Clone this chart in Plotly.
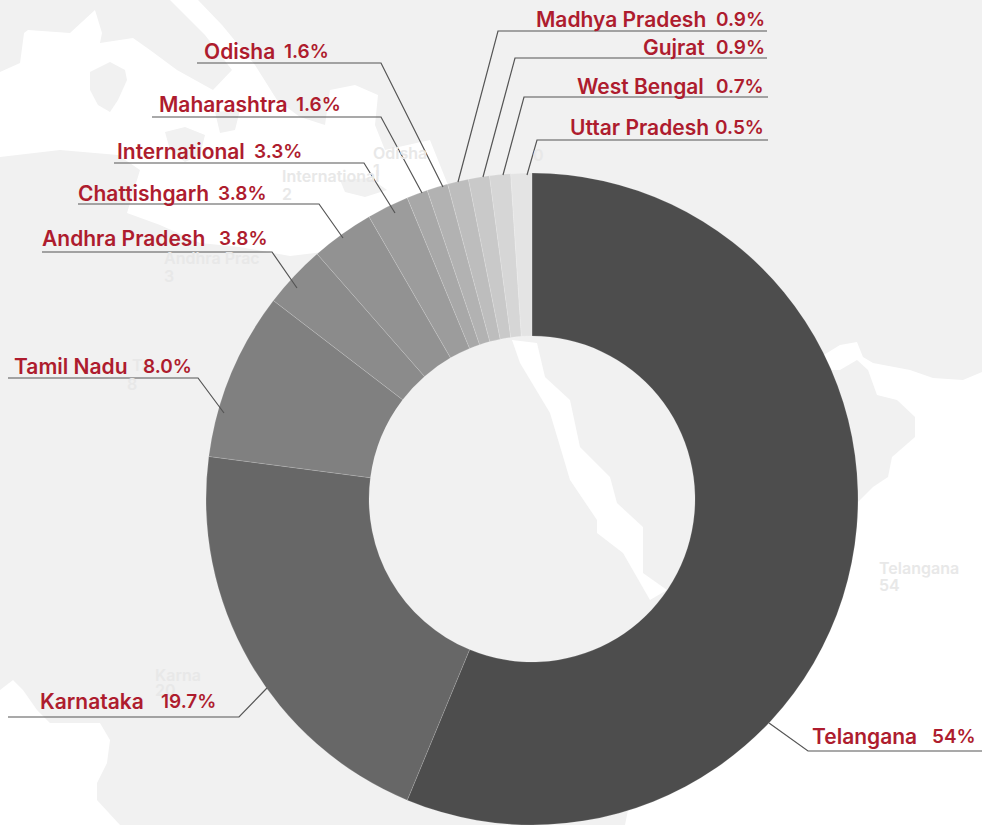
import plotly.graph_objects as go

# ---------- data ----------
regions = ["Telangana", "Karnataka", "Tamil Nadu", "Andhra Pradesh", "Chattishgarh", "International",
           "Maharashtra", "Odisha", "Madhya Pradesh", "Gujrat", "West Bengal", "Uttar Pradesh"]
values = [54, 20, 8, 3, 3, 2, 1, 1, 1, 1, 1, 1]
share_labels = ["54%", "19.7%", "8.0%", "3.8%", "3.8%", "3.3%", "1.6%", "1.6%", "0.9%", "0.9%", "0.7%", "0.5%"]

# ---------- styles / layout ----------
W, H = 982, 825
slice_colors = ["#4d4d4d", "#676767", "#808080", "#8b8b8b", "#929292", "#9c9c9c",
                "#a8a8a8", "#b2b2b2", "#bdbdbd", "#c9c9c9", "#d6d6d6", "#e4e4e4"]
RED = "#ae1c2e"
GHOST = "#e8e8e8"
LEADER = "#555555"

# label placement: name right edge, share right edge, text centre y
label_pos = [(918, 977, 736), (145, 217, 701), (129, 193, 366), (206, 268, 239), (210, 267, 194), (246, 303, 152),
             (289, 342, 105), (276, 330, 52), (707, 766, 19), (706, 766, 47), (705, 765, 86), (710, 765, 127)]
# leader lines: slice tip, elbow, end of the horizontal rule
leaders = [
    [(769, 723), (808, 751), (982, 751)],
    [(267, 688), (239, 717), (8, 717)],
    [(224, 413), (198, 378), (8, 378)],
    [(297, 288), (272, 252), (42, 252)],
    [(343, 238), (319, 204), (78, 204)],
    [(395, 213), (364, 163), (114, 163)],
    [(422, 193), (381, 117), (152, 117)],
    [(443, 187), (381, 63), (197, 63)],
    [(458, 182), (498, 31), (767, 31)],
    [(483, 177), (515, 58), (767, 58)],
    [(503, 175), (524, 97), (768, 97)],
    [(527, 175), (537, 140), (768, 140)],
]
ghosts = [("Telangana", 878, 568), ("54", 878, 585), ("Karna", 154, 675), ("20", 154, 690),
          ("Ta", 131, 365), ("8", 126, 384), ("Andhra Prac", 163, 258), ("3", 163, 276),
          ("International", 281, 176), ("2", 281, 194), ("Odisha", 372, 153), ("1", 372, 170),
          ("0", 532, 155)]

# faint map behind the chart (white water on grey land)
water = [
    [(0,72),(20,63),(24,33),(28,30),(70,33),(95,10),(102,33),(100,43),(133,38),(150,50),(177,70),(213,90),
     (232,70),(205,35),(170,0),(198,0),(222,25),(255,65),(277,100),(300,117),(325,125),(330,90),(355,85),(378,95),
     (375,125),(385,150),(430,140),(450,190),(400,240),(340,250),(290,256),(240,247),(200,243),(160,225),(127,213),
     (140,170),(118,155),(60,150),(0,157)],
    [(512,340),(520,363),(550,413),(562,453),(570,480),(597,520),(597,533),(623,553),(650,600),(667,590),(643,573),
     (643,527),(617,503),(610,477),(580,447),(570,400),(545,377),(537,343)],
    [(750,400),(840,345),(857,342),(863,357),(873,363),(910,370),(933,378),(963,380),(982,372),(982,825),(625,825),(650,700),(700,500)],
    [(0,690),(13,680),(23,690),(37,710),(50,723),(100,723),(110,740),(107,763),(97,783),(97,800),(120,825),(0,825)],
]
land = [
    [(90,72),(110,62),(125,70),(127,80),(118,100),(110,112),(98,105),(90,90)],
    [(165,132),(185,127),(205,135),(200,155),(185,162),(170,150)],
    [(215,112),(240,110),(235,130),(220,133)],
    [(340,180),(370,178),(387,190),(365,197),(345,192)],
    [(820,370),(840,370),(857,360),(868,370),(877,395),(897,400),(915,417),(915,437),(892,457),(888,477),(873,487),(857,503),(800,520)],
]

def px(x, y):
    return f"{x / W:.5f},{1 - y / H:.5f}"

def path(points, close=True):
    return "M " + " L ".join(px(x, y) for x, y in points) + (" Z" if close else "")

shapes = []
for poly in water:
    shapes.append(dict(type="path", xref="paper", yref="paper", layer="below", path=path(poly), fillcolor="#ffffff", line=dict(width=0)))
for poly in land:
    shapes.append(dict(type="path", xref="paper", yref="paper", layer="below", path=path(poly), fillcolor="#f1f1f1", line=dict(width=0)))
for pts in leaders:
    shapes.append(dict(type="path", xref="paper", yref="paper", layer="above", path=path(pts, close=False), line=dict(color=LEADER, width=1.2)))

annotations = []
def note(text, x, y, color, size, family, xanchor="right", weight=700):
    annotations.append(dict(text=text, x=x / W, y=1 - y / H, xref="paper", yref="paper", xanchor=xanchor, yanchor="middle",
                            xshift=0, showarrow=False, align="left", borderpad=0,
                            font=dict(color=color, size=size, family=family, weight=weight)))

for text, x, y in ghosts:
    note(text, x, y, GHOST, 16, "Inter", xanchor="left", weight=600)
for name, share, (nx, sx, y) in zip(regions, share_labels, label_pos):
    note(name, nx, y, RED, 21, "Inter", weight=600)
    note(share, sx, y, RED, 19, "Inter", weight=600)

fig = go.Figure(go.Pie(
    labels=regions, values=values, sort=False, direction="clockwise", rotation=0, hole=0.5,
    marker=dict(colors=slice_colors, line=dict(color="rgba(255,255,255,0.15)", width=1)),
    textinfo="none", hoverinfo="label+value",
    domain=dict(x=[206 / W, 858 / W], y=[0, 652 / H]),
    showlegend=False,
))
fig.update_layout(width=W, height=H, margin=dict(l=0, r=0, t=0, b=0), paper_bgcolor="#f1f1f1",
                  shapes=shapes, annotations=annotations, showlegend=False)
fig.write_html("out.html", config=dict(displayModeBar=False), post_script="document.body.style.margin='0';")
